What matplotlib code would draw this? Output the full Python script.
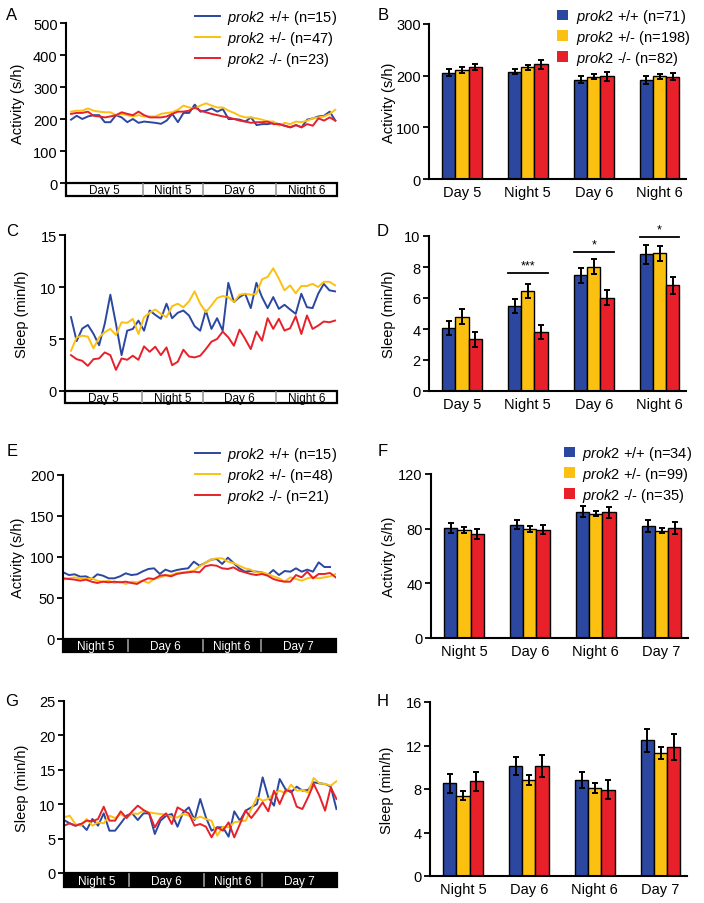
import numpy as np
import matplotlib
matplotlib.use("Agg")
import matplotlib.pyplot as plt
from matplotlib.patches import Patch, Rectangle
from matplotlib.lines import Line2D
from matplotlib.transforms import blended_transform_factory

plt.rcParams['font.family'] = ['Liberation Sans', 'DejaVu Sans']
plt.rcParams['mathtext.fontset'] = 'custom'
plt.rcParams['mathtext.rm'] = 'Liberation Sans'
plt.rcParams['mathtext.it'] = 'Liberation Sans:italic'

BLUE = '#2b47a0'
YELLOW = '#fcc011'
RED = '#e8202a'
COLORS = [BLUE, YELLOW, RED]
GENOTYPES = ['+/+', '+/-', '-/-']

# ---------------- data ----------------
# panel A: activity traces (s/h), hourly
a_wt = [198, 210, 200, 208, 212, 212, 190, 190, 212, 205, 190, 200, 188, 192, 190, 188,
        185, 195, 216, 190, 219, 219, 245, 223, 226, 233, 223, 231, 200, 200, 198, 192,
        205, 181, 184, 184, 188, 184, 179, 174, 181, 174, 198, 202, 208, 210, 223, 195]
a_het = [223, 226, 226, 233, 226, 223, 221, 221, 212, 216, 212, 208, 212, 208, 208, 208,
         216, 219, 221, 229, 242, 236, 233, 242, 249, 242, 236, 236, 226, 219, 210, 205,
         205, 202, 198, 192, 192, 179, 188, 184, 192, 190, 195, 202, 205, 208, 216, 229]
a_ko = [216, 219, 219, 223, 210, 208, 205, 208, 212, 221, 216, 212, 223, 212, 205, 205,
        205, 208, 216, 223, 223, 226, 236, 226, 221, 216, 212, 208, 205, 200, 195, 192,
        188, 190, 190, 192, 184, 184, 179, 174, 181, 174, 184, 179, 202, 195, 205, 195]
a_n = [15, 47, 23]

# panel B: activity means (s/h) and SEM
periods_1 = ['Day 5', 'Night 5', 'Day 6', 'Night 6']
b_means = [[206, 208, 192, 192],
           [211, 216, 198, 199],
           [217, 222, 199, 198]]
b_err = [[6.5, 5, 6.5, 7.5],
         [5.5, 5, 5, 5],
         [6.5, 8.5, 8.5, 7]]
b_n = [71, 198, 82]

# panel C: sleep traces (min/h)
c_wt = [7.1, 4.8, 6.0, 6.35, 5.5, 4.4, 6.45, 9.26, 6.45, 3.45, 5.8, 5.97, 6.77, 5.8, 7.74, 7.32,
        6.94, 8.39, 7.0, 7.52, 7.74, 7.26, 6.23, 5.8, 7.74, 5.97, 7.0, 5.8, 10.4, 8.55, 9.03, 9.35,
        7.97, 10.4, 9.03, 7.97, 9.03, 7.9, 8.29, 7.84, 7.42, 9.35, 8.06, 7.97, 9.35, 10.3, 9.68, 9.58]
c_het = [3.87, 5.16, 5.32, 5.23, 4.1, 5.16, 5.65, 5.97, 5.39, 6.61, 6.55, 6.94, 5.48, 7.1, 7.52, 7.84,
         7.42, 7.1, 8.16, 8.39, 8.06, 8.61, 9.58, 8.39, 7.58, 8.23, 8.94, 9.13, 9.03, 8.55, 9.26, 9.35,
         9.26, 9.35, 10.74, 10.97, 11.8, 10.8, 9.68, 10.16, 9.4, 10.1, 10.1, 10.3, 10.0, 10.5, 10.5, 10.16]
c_ko = [3.45, 3.06, 2.9, 2.42, 3.06, 3.13, 3.71, 3.45, 2.03, 3.13, 3.0, 3.39, 3.0, 4.29, 3.77, 4.26,
        3.45, 4.19, 2.48, 2.81, 3.97, 3.32, 3.23, 3.39, 4.03, 4.74, 5.0, 5.71, 5.16, 4.35, 5.9, 5.0,
        4.03, 5.71, 4.84, 7.0, 5.97, 6.94, 5.81, 6.03, 7.19, 5.48, 7.26, 5.97, 6.29, 6.68, 6.61, 6.77]

# panel D: sleep means (min/h) and SEM
d_means = [[4.09, 5.48, 7.46, 8.82],
           [4.8, 6.45, 8.02, 8.88],
           [3.33, 3.83, 6.02, 6.82]]
d_err = [[0.45, 0.47, 0.5, 0.6],
         [0.46, 0.44, 0.48, 0.48],
         [0.47, 0.45, 0.5, 0.54]]
d_sig_periods = [1, 2, 3]
d_sig_labels = ['***', '*', '*']
d_sig_heights = [7.6, 9.0, 9.95]

# panel E: activity traces (s/h)
e_wt = [81.3, 78, 78.9, 76, 76.4, 73.2, 78.9, 77.2, 74, 74, 76.4, 80.1, 78, 78.9, 82.5, 85.4,
        86.2, 79.3, 84.6, 82.1, 84.1, 85.4, 86.2, 94.3, 89.4, 92.7, 96.7, 97.6, 91.5, 99.2, 92.7, 86.2,
        82.1, 82.9, 82.1, 81.3, 78, 84.1, 78, 82.9, 82.1, 86.2, 82.1, 84.6, 82.1, 93.5, 87.8, 87.8]
e_het = [72.4, 74, 75.2, 74, 73.2, 74, 71.1, 69.9, 71.1, 68.3, 69.9, 67.1, 69.9, 69.1, 71.1, 68.3,
         73.2, 75.2, 77.2, 78, 80.5, 81.3, 82.1, 83.3, 88.6, 92.7, 96.7, 98.4, 98.4, 94.3, 92.7, 89.4,
         86.2, 84.6, 81.3, 81.3, 79.3, 76.4, 74, 69.9, 75.2, 73.2, 71.1, 74, 75.2, 74, 75.2, 76.4, 79.3]
e_ko = [74, 73.2, 72.4, 71.1, 72.4, 69.9, 68.3, 69.9, 69.1, 69.9, 69.1, 69.9, 68.3, 67.1, 71.1, 74,
        73.2, 77.2, 78, 76.4, 79.3, 80.5, 81.3, 82.1, 81.3, 88.6, 90.2, 89.4, 86.2, 85.4, 87.4, 83.3,
        81.3, 79.3, 78, 79.3, 77.2, 73.2, 71.1, 69.9, 69.9, 78, 75.2, 82.1, 74, 79.3, 79.3, 80.5, 75.2]
e_n = [15, 48, 21]

# panel F: activity means (s/h) and SEM
periods_2 = ['Night 5', 'Day 6', 'Night 6', 'Day 7']
f_means = [[80.5, 83, 92.4, 81.7],
           [79, 79.8, 91, 78.5],
           [76, 79.3, 92, 80.7]]
f_err = [[3.8, 3.3, 4, 4.4],
         [2, 2, 1.8, 2],
         [3.4, 3.3, 4, 4.5]]
f_n = [34, 99, 35]

# panel G: sleep traces (min/h)
g_wt = [7.7, 7.22, 6.88, 7.12, 6.25, 7.85, 6.88, 8.67, 6.15, 6.15, 7.22, 8.33, 8.67, 7.7, 8.67, 8.67,
        5.67, 7.61, 8.33, 8.58, 6.73, 8.82, 9.54, 7.7, 10.76, 8.09, 6.15, 6.64, 6.64, 5.28, 8.96, 7.61,
        9.06, 9.54, 10.03, 13.9, 11.0, 9.79, 13.66, 12.21, 11.72, 12.55, 11.97, 12.06, 13.18, 13.03, 12.94, 12.55, 9.3]
g_het = [8.09, 8.33, 7.12, 6.88, 7.85, 6.88, 7.36, 7.22, 8.33, 7.99, 8.58, 7.99, 8.67, 8.58, 9.06, 8.82,
         8.67, 8.58, 8.48, 8.09, 8.09, 8.58, 8.33, 7.85, 8.19, 7.85, 7.61, 5.43, 6.73, 6.64, 7.36, 7.51,
         7.61, 9.3, 11.0, 10.51, 10.76, 11.58, 11.97, 11.58, 12.84, 11.97, 12.06, 11.72, 13.81, 13.03, 12.94, 12.7, 13.33]
g_ko = [6.88, 7.22, 6.88, 7.12, 7.61, 7.51, 7.85, 9.64, 7.61, 7.61, 8.96, 7.99, 8.96, 9.79, 9.16, 8.67,
        6.64, 7.99, 8.67, 7.12, 9.54, 9.06, 8.67, 6.88, 7.12, 6.73, 5.18, 6.64, 6.15, 7.36, 5.18, 7.12,
        9.06, 7.99, 9.06, 10.27, 8.96, 11.97, 10.03, 11.97, 11.97, 9.64, 9.3, 11.0, 12.94, 11.24, 9.06, 12.45, 10.76]

# panel H: sleep means (min/h) and SEM
h_means = [[8.52, 10.1, 8.85, 12.49],
           [7.39, 8.82, 8.09, 11.33],
           [8.7, 10.14, 7.94, 11.9]]
h_err = [[0.9, 0.8, 0.75, 1.07],
         [0.4, 0.45, 0.45, 0.55],
         [0.9, 1.0, 0.87, 1.2]]

# ---------------- layout helpers ----------------
W, H = 704, 904


def box(l, t, r, b):
    """pixel box -> figure fraction rect"""
    return [l / W, 1 - b / H, (r - l) / W, (b - t) / H]


def label(g, n):
    return r'$\it{prok2}$ ' + g + f' (n={n})'


def style_axes(ax, yticks):
    for s in ['top', 'right']:
        ax.spines[s].set_visible(False)
    for s in ['left', 'bottom']:
        ax.spines[s].set_linewidth(1.5)
    ax.set_yticks(yticks)
    ax.set_ylim(yticks[0], yticks[-1])
    ax.tick_params(axis='y', direction='out', length=4, width=1.3, labelsize=10.5, pad=2)


def set_ylab(fig, ax, text, x_px):
    ax.set_ylabel(text, fontsize=10.5)
    ax.yaxis.set_label_coords(x_px / W, 0.5,
                              transform=blended_transform_factory(fig.transFigure, ax.transAxes))


def plot_traces(ax, series, yticks, xpad):
    for vals, c in zip(series, COLORS):
        ax.plot(np.arange(len(vals)), vals, color=c, lw=1.4)
    n = max(len(s) for s in series)
    ax.set_xlim(xpad[0], n - 1 + xpad[1])
    style_axes(ax, yticks)
    ax.spines['bottom'].set_visible(False)
    ax.set_xticks([])


def draw_timebar(fig, rect, names, edges, dark):
    bx = fig.add_axes(rect)
    bx.set_xlim(0, 1)
    bx.set_ylim(0, 1)
    bx.axis('off')
    face = 'black' if dark else 'white'
    txt = 'white' if dark else 'black'
    bx.add_patch(Rectangle((0, 0), 1, 1, facecolor=face, edgecolor='black', lw=1.6,
                           clip_on=False))
    for e in edges[1:-1]:
        bx.plot([e, e], [0.08, 0.92], color='#9a9a9a', lw=1.2)
    for nm, l, r in zip(names, edges[:-1], edges[1:]):
        bx.text((l + r) / 2, 0.45, nm, ha='center', va='center', fontsize=8.5, color=txt)


def plot_bars(ax, means, errs, cats, yticks):
    x = np.arange(len(cats))
    w = 0.2
    for i, (m, e, c) in enumerate(zip(means, errs, COLORS)):
        ax.bar(x + (i - 1) * w, m, w, color=c, edgecolor='black', lw=1.0,
               yerr=e, capsize=2.5, error_kw=dict(elinewidth=1.4, capthick=1.4, ecolor='black'))
    ax.set_xlim(-0.5, 3.4)
    ax.set_xticks(x)
    ax.set_xticklabels(cats, fontsize=10.5)
    ax.tick_params(axis='x', length=0, pad=4)
    style_axes(ax, yticks)


def line_legend(ax, fig, ns, x, y):
    handles = [Line2D([], [], color=c, lw=1.4) for c in COLORS]
    labels = [label(g, n) for g, n in zip(GENOTYPES, ns)]
    ax.legend(handles, labels, loc='upper right', bbox_to_anchor=(x / W, 1 - y / H),
              bbox_transform=fig.transFigure, frameon=False, fontsize=10.5,
              handlelength=1.7, handletextpad=0.5, labelspacing=0.2, borderaxespad=0,
              borderpad=0)


def bar_legend(ax, fig, ns, x, y):
    handles = [Patch(facecolor=c, edgecolor='none') for c in COLORS]
    labels = [label(g, n) for g, n in zip(GENOTYPES, ns)]
    ax.legend(handles, labels, loc='upper right', bbox_to_anchor=(x / W, 1 - y / H),
              bbox_transform=fig.transFigure, frameon=False, fontsize=10.5,
              handlelength=0.75, handleheight=0.75, handletextpad=0.5, labelspacing=0.2,
              borderaxespad=0, borderpad=0)


def main():
    fig = plt.figure(figsize=(W / 100, H / 100), dpi=100)

    edges_1 = [0, 0.284, 0.506, 0.775, 1]
    edges_2 = [0, 0.239, 0.513, 0.724, 1]

    # A
    axA = fig.add_axes(box(66, 24, 337, 184))
    plot_traces(axA, [a_wt, a_het, a_ko], [0, 100, 200, 300, 400, 500], (-0.9, 0.3))
    set_ylab(fig, axA, 'Activity (s/h)', 25)
    draw_timebar(fig, box(66, 184, 337, 197), periods_1, edges_1, False)
    line_legend(axA, fig, a_n, 337, 9)

    # B
    axB = fig.add_axes(box(429, 25, 686, 180))
    plot_bars(axB, b_means, b_err, periods_1, [0, 100, 200, 300])
    set_ylab(fig, axB, 'Activity (s/h)', 396)
    bar_legend(axB, fig, b_n, 690, 8)

    # C
    axC = fig.add_axes(box(65, 236, 337, 392))
    plot_traces(axC, [c_wt, c_het, c_ko], [0, 5, 10, 15], (-1.07, 0.35))
    set_ylab(fig, axC, 'Sleep (min/h)', 29)
    draw_timebar(fig, box(65, 392, 337, 404), periods_1, edges_1, False)

    # D
    axD = fig.add_axes(box(429, 237, 686, 392))
    plot_bars(axD, d_means, d_err, periods_1, [0, 2, 4, 6, 8, 10])
    set_ylab(fig, axD, 'Sleep (min/h)', 396)
    for p, s, h in zip(d_sig_periods, d_sig_labels, d_sig_heights):
        axD.plot([p - 0.3, p + 0.3], [h, h], color='black', lw=1.3, clip_on=False)
        axD.text(p, h + 0.1, s, ha='center', va='bottom', fontsize=9)

    # E
    axE = fig.add_axes(box(63, 476, 336, 640))
    plot_traces(axE, [e_wt, e_het, e_ko], [0, 50, 100, 150, 200], (-0.05, 0.05))
    set_ylab(fig, axE, 'Activity (s/h)', 25)
    draw_timebar(fig, box(63, 640, 336, 653), periods_2, edges_2, True)
    line_legend(axE, fig, e_n, 337, 446)

    # F
    axF = fig.add_axes(box(431, 475, 688, 639))
    plot_bars(axF, f_means, f_err, periods_2, [0, 40, 80, 120])
    set_ylab(fig, axF, 'Activity (s/h)', 396)
    bar_legend(axF, fig, f_n, 692, 445)

    # G
    axG = fig.add_axes(box(64, 702, 337, 874))
    plot_traces(axG, [g_wt, g_het, g_ko], [0, 5, 10, 15, 20, 25], (0.0, 0.1))
    set_ylab(fig, axG, 'Sleep (min/h)', 29)
    draw_timebar(fig, box(64, 874, 337, 888), periods_2, edges_2, True)

    # H
    axH = fig.add_axes(box(430, 703, 687, 877))
    plot_bars(axH, h_means, h_err, periods_2, [0, 4, 8, 12, 16])
    set_ylab(fig, axH, 'Sleep (min/h)', 394)

    # panel letters
    for t, x, y in [('A', 12, 15), ('B', 383, 15), ('C', 12, 232), ('D', 383, 232),
                    ('E', 12, 452), ('F', 383, 452), ('G', 12, 702), ('H', 383, 702)]:
        fig.text(x / W, 1 - y / H, t, ha='center', va='center', fontsize=12)

    fig.savefig('out.png', dpi=100)


if __name__ == "__main__":
    main()
